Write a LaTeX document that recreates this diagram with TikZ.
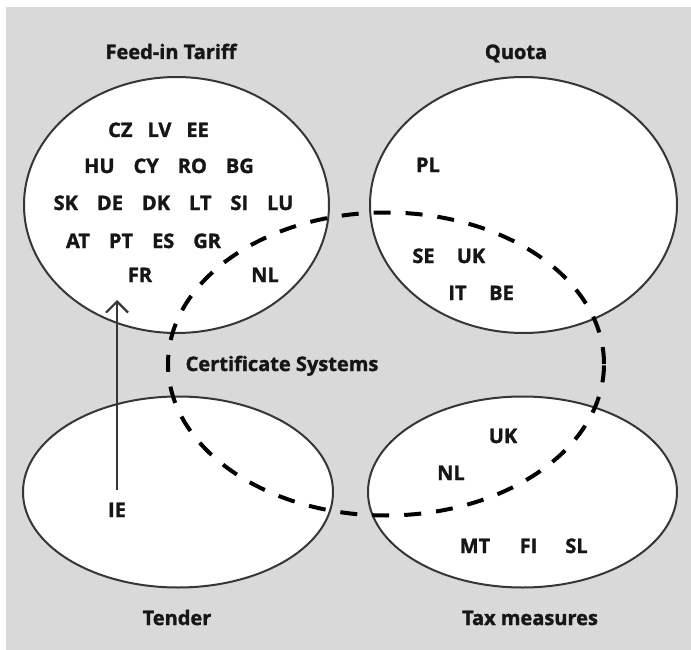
\documentclass[tikz,border=0pt]{standalone}
\usepackage{fontspec}
\setmainfont{Open Sans}[BoldFeatures={FakeBold=1.5}]
\usetikzlibrary{arrows.meta,shapes.geometric}
\definecolor{bggray}{HTML}{D9D9D9}
\definecolor{edgegray}{HTML}{363636}
\definecolor{txt}{HTML}{161616}
\newcommand{\cg}{\hspace{19pt}}
\newcommand{\cgs}{\hspace{15pt}}
\begin{document}
\begin{tikzpicture}[x=1pt,y=-1pt,
  setshape/.style={ellipse, draw=edgegray, line width=2pt, fill=white, inner sep=0pt},
  certshape/.style={ellipse, draw=black, line width=4pt, dash pattern=on 17pt off 15pt, inner sep=0pt},
  code/.style={font=\fontsize{20}{24}\selectfont\bfseries, text=txt, inner sep=0pt, anchor=base},
  settitle/.style={font=\fontsize{20}{24}\selectfont\bfseries, text=txt, inner sep=0pt, anchor=base},
  arrowline/.style={draw=edgegray, line width=2.2pt, -{Straight Barb[length=11pt,width=22pt,line width=2.2pt]}}
]
\useasboundingbox (0,0) rectangle (691,650);
\fill[white] (0,0) rectangle (691,650);
\fill[bggray] (6,7) rectangle (691,650);

% set ellipses
\node[setshape, minimum width=305pt, minimum height=256pt] (fit) at (176.5,205) {};
\node[setshape, minimum width=307pt, minimum height=256pt] (quota) at (523.5,205) {};
\node[setshape, minimum width=310pt, minimum height=191pt] (tender) at (178,492) {};
\node[setshape, minimum width=309pt, minimum height=191pt] (tax) at (522.5,492) {};

% certificate systems
\node[certshape, minimum width=436pt, minimum height=303pt] (cert) at (386,364) {};

% titles
\node[settitle] (tfit) at (171,59) {Feed-in Tariff};
\node[settitle] (tquota) at (516,59) {Quota};
\node[settitle] (tcert) at (282,371) {Certificate Systems};
\node[settitle] (ttender) at (177,625) {Tender};
\node[settitle] (ttax) at (530,625) {Tax measures};

% feed-in tariff members
\node[code] (r1) at (158.5,137) {CZ\cgs LV\cgs EE};
\node[code] (r2) at (169,173) {HU\cg CY\cg RO\cg BG};
\node[code] (r3) at (173.5,210) {SK\cg DE\cg DK\cg LT\cg SI\cg LU};
\node[code] (r4) at (143.5,248) {AT\cg PT\cg ES\cg GR};
\node[code] (fr) at (140,282) {FR};
\node[code] (nl1) at (265,282) {NL};

% quota members
\node[code] (pl) at (428,172) {PL};
\node[code] (se) at (423.5,263) {SE};
\node[code] (uk1) at (471,263) {UK};
\node[code] (it) at (457.5,300) {IT};
\node[code] (be) at (501.5,300) {BE};

% tender
\node[code] (ie) at (117,517) {IE};

% tax measures
\node[code] (uk2) at (503,443) {UK};
\node[code] (nl2) at (451,480) {NL};
\node[code] (mt) at (475,553) {MT};
\node[code] (fi) at (528.5,553) {FI};
\node[code] (sl) at (576.5,553) {SL};

% arrow IE -> feed-in tariff
\coordinate (tip) at (117,300);
\draw[arrowline, shorten <=13pt] (ie.north) -- (tip);
\end{tikzpicture}
\end{document}
